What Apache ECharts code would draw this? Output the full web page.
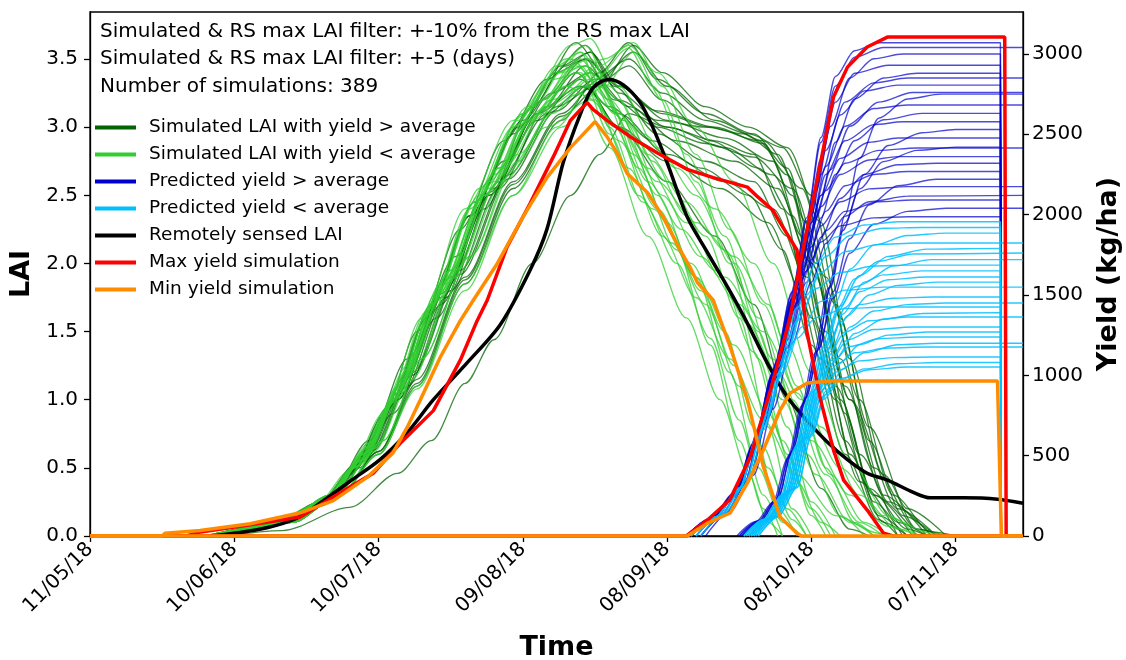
<!DOCTYPE html>
<html lang="en">
<head>
    <meta charset="UTF-8">
    <title>LAI and yield simulations</title>
    <style>
        * { margin: 0; padding: 0; box-sizing: border-box; }
        html, body { background: #fff; }
        .chart { width: 1126px; height: 660px; }
    </style>
</head>
<body>
<div class="chart" id="chart"></div>

<script src="https://cdn.jsdelivr.net/npm/echarts@6/dist/echarts.min.js"></script>
<script>
    // x values are days counted from 11/05/18
    const xTickDays = [0, 30, 60, 90, 120, 150, 180]
    const xTickLabels = ['11/05/18', '10/06/18', '10/07/18', '09/08/18', '08/09/18', '08/10/18', '07/11/18']
    const laiTicks = [0, 0.5, 1, 1.5, 2, 2.5, 3, 3.5]
    const yieldTicks = [0, 500, 1000, 1500, 2000, 2500, 3000]

    const infoLines = [
        'Simulated & RS max LAI filter: +-10% from the RS max LAI',
        'Simulated & RS max LAI filter: +-5 (days)',
        'Number of simulations: 389'
    ]
    const names = [
        'Simulated LAI with yield > average',
        'Simulated LAI with yield < average',
        'Predicted yield > average',
        'Predicted yield < average',
        'Remotely sensed LAI',
        'Max yield simulation',
        'Min yield simulation'
    ]

    // remotely sensed LAI [day, LAI]
    const rsLAI = [[25,0],[30,0.02],[36.8,0.06],[43,0.13],[47.8,0.24],[54,0.4],[60.3,0.56],[66,0.76],[71.4,1.0],
        [78.4,1.27],[85.3,1.55],[91.5,1.95],[95,2.25],[98.4,2.74],[102,3.1],[104.6,3.29],[107.8,3.35],[110.9,3.31],
        [114.4,3.18],[117,3.0],[120,2.74],[124.2,2.34],[128.4,2.08],[133,1.8],[136.7,1.56],[140.8,1.27],[145,1.02],
        [149,0.85],[153.3,0.69],[157.5,0.56],[161.6,0.46],[165.8,0.41],[171.2,0.32],[174.7,0.28],[181.6,0.28],
        [188.7,0.27],[194,0.24]]

    const maxLAI = [[0,0],[20,0],[23,0.03],[33,0.08],[43.7,0.14],[54,0.36],[58.9,0.46],[64.5,0.68],[71.4,0.92],[77,1.29],
        [80.5,1.58],[82.6,1.73],[86.7,2.12],[91.5,2.44],[96.3,2.78],[99.9,3.05],[102,3.13],[103.4,3.18],[104.6,3.13],
        [107.5,3.05],[112.3,2.93],[118,2.81],[124.2,2.69],[129.6,2.63],[136.7,2.56],[138.8,2.49],[142,2.39],[143.5,2.3],
        [147,2.1],[149,1.51],[151.9,1.0],[154.6,0.63],[156.7,0.41],[161.6,0.19],[165,0.02],[167,0],[194,0]]
    const maxYield = [[0,0],[124,0],[128.4,100],[133,224],[137.3,492],[141.5,908],[145.6,1363],[147.7,1700],[151.2,2215],
        [154.6,2732],[157.5,2918],[161.6,3043],[165.8,3105],[190.2,3105],[190.5,0],[194,0]]

    const minLAI = [[0,0],[15,0],[15.6,0.02],[22.9,0.04],[33.3,0.09],[43.7,0.17],[50.6,0.26],[57.6,0.43],[63,0.61],[66,0.8],
        [68.7,1.0],[72.8,1.31],[77,1.58],[79.7,1.73],[84.7,2.0],[90,2.34],[95,2.63],[99.9,2.85],[103.4,2.98],[105,3.04],
        [107.5,2.93],[109.6,2.81],[111.7,2.66],[115.9,2.52],[119.2,2.34],[122.7,2.1],[124.8,1.97],[126.3,1.86],[129.6,1.73],
        [133.1,1.39],[136.7,1.0],[140,0.51],[143.5,0.14],[147,0.02],[148,0],[194,0]]
    const minYield = [[0,0],[124.2,0],[128.4,80],[133.1,143],[136.7,330],[140,535],[143.5,784],[145.6,890],[149.2,952],
        [154,965],[188.7,965],[189.5,0],[194,0]]

    // simulated LAI, yield above average
    const highLAIRuns = [
        [[24,0],[38,0.08],[48,0.22],[56,0.5],[63,0.9],[72,1.6],[82,2.4],[92,3.15],[101,3.62],[108,3.35],[118,3.12],[130,3.0],[140,2.88],[146,2.5],[152,1.5],[158,0.6],[165,0.1],[170,0]],
        [[26,0],[40,0.1],[50,0.28],[58,0.62],[65,1.05],[74,1.75],[84,2.55],[94,3.2],[103,3.5],[110,3.3],[120,3.05],[132,2.92],[142,2.75],[148,2.2],[155,1.1],[163,0.3],[172,0]],
        [[27,0],[42,0.1],[52,0.3],[60,0.6],[68,1.1],[78,1.85],[88,2.55],[98,3.05],[106,3.4],[112,3.62],[118,3.35],[128,3.1],[138,2.95],[145,2.7],[151,2.0],[158,1.0],[166,0.25],[175,0]],
        [[28,0],[40,0.04],[54,0.21],[64,0.46],[71,0.7],[78,1.12],[84,1.44],[92,2.0],[100,2.5],[106,2.8],[112,3.1],[120,3.0],[132,2.85],[142,2.65],[150,2.0],[158,1.0],[168,0.2],[176,0]],
        [[25,0],[38,0.09],[48,0.25],[55,0.52],[62,0.95],[70,1.6],[79,2.35],[89,3.0],[98,3.45],[104,3.55],[110,3.25],[120,3.0],[130,2.9],[138,2.8],[144,2.4],[150,1.6],[157,0.7],[164,0.15],[170,0]],
        [[26,0],[40,0.1],[50,0.3],[58,0.7],[66,1.3],[76,2.05],[86,2.75],[96,3.25],[104,3.4],[112,3.15],[122,2.9],[134,2.75],[143,2.55],[150,2.0],[157,1.1],[165,0.3],[174,0]],
        [[24,0],[37,0.08],[47,0.22],[54,0.45],[61,0.88],[68,1.5],[77,2.25],[86,2.9],[95,3.35],[103,3.6],[109,3.3],[118,2.95],[128,2.75],[138,2.6],[145,2.2],[152,1.3],[160,0.4],[168,0]],
        [[28,0],[42,0.1],[52,0.3],[60,0.62],[68,1.15],[78,1.9],[88,2.6],[98,3.1],[106,3.35],[113,3.55],[120,3.3],[130,3.05],[140,2.9],[148,2.55],[155,1.7],[162,0.8],[170,0.2],[178,0]],
        [[25,0],[39,0.09],[49,0.26],[57,0.58],[64,1.0],[73,1.7],[83,2.5],[93,3.1],[102,3.3],[110,3.1],[120,2.8],[132,2.6],[142,2.4],[149,1.9],[156,1.0],[163,0.3],[171,0]],
        [[26,0],[40,0.1],[50,0.27],[58,0.6],[66,1.1],[75,1.8],[85,2.55],[95,3.15],[103,3.45],[110,3.2],[118,3.05],[128,3.0],[136,2.95],[143,2.8],[149,2.3],[156,1.3],[163,0.5],[172,0.05],[178,0]],
        [[25,0],[39,0.09],[49,0.25],[57,0.55],[64,1.0],[73,1.75],[83,2.5],[93,3.05],[102,3.35],[110,3.0],[120,2.6],[130,2.2],[138,1.7],[145,1.0],[152,0.35],[158,0.05],[162,0]],
        [[27,0],[41,0.1],[51,0.3],[59,0.65],[67,1.2],[77,1.95],[87,2.65],[97,3.15],[105,3.3],[112,3.45],[119,3.2],[129,2.9],[139,2.7],[146,2.35],[153,1.5],[160,0.6],[168,0.1],[174,0]],
        [[25,0],[38,0.09],[48,0.25],[56,0.55],[63,1.0],[71,1.7],[80,2.45],[90,3.05],[99,3.45],[104,3.55],[110,3.3],[119,3.1],[129,3.0],[139,2.9],[145,2.65],[151,1.9],[157,0.9],[163,0.25],[169,0]],
        [[26,0],[40,0.1],[50,0.29],[58,0.64],[66,1.2],[75,1.9],[85,2.6],[95,3.1],[103,3.3],[110,3.0],[120,2.75],[131,2.55],[141,2.3],[148,1.8],[155,1.0],[162,0.35],[170,0.05],[174,0]],
        [[27,0],[41,0.1],[51,0.3],[59,0.63],[67,1.18],[77,1.92],[87,2.62],[97,3.12],[105,3.35],[112,3.5],[119,3.25],[128,3.05],[137,2.95],[144,2.85],[150,2.5],[156,1.6],[162,0.7],[169,0.15],[176,0]],
        [[25,0],[39,0.09],[49,0.26],[57,0.57],[64,1.05],[73,1.78],[83,2.52],[93,3.1],[101,3.4],[108,3.15],[117,2.9],[127,2.7],[137,2.5],[144,2.1],[150,1.4],[157,0.6],[164,0.12],[168,0]],
        [[24,0],[37,0.08],[47,0.22],[55,0.48],[62,0.92],[70,1.6],[79,2.35],[88,2.95],[97,3.4],[103,3.5],[109,3.2],[118,3.0],[128,2.88],[138,2.78],[146,2.55],[153,1.9],[160,1.0],[167,0.3],[175,0.03],[180,0]],
        [[28,0],[42,0.1],[52,0.3],[60,0.62],[68,1.12],[78,1.88],[88,2.58],[98,3.08],[106,3.3],[113,3.6],[119,3.4],[128,3.15],[137,3.0],[145,2.85],[152,2.3],[158,1.3],[165,0.45],[172,0.05],[177,0]]
    ]

    // simulated LAI, yield below average
    const lowLAIRuns = [
        [[25,0],[38,0.08],[48,0.24],[55,0.5],[62,0.95],[70,1.65],[80,2.45],[90,3.1],[99,3.5],[103,3.6],[110,3.1],[118,2.5],[126,1.9],[133,1.2],[139,0.5],[144,0.1],[148,0]],
        [[26,0],[40,0.1],[50,0.28],[58,0.65],[65,1.15],[74,1.9],[84,2.65],[94,3.2],[102,3.45],[109,3.0],[117,2.4],[125,2.0],[132,1.5],[138,0.8],[143,0.2],[147,0]],
        [[24,0],[37,0.08],[47,0.23],[54,0.48],[61,0.9],[69,1.6],[78,2.4],[88,3.05],[97,3.4],[104,3.5],[111,3.05],[120,2.6],[128,2.2],[135,1.6],[141,0.8],[146,0.2],[150,0]],
        [[27,0],[42,0.1],[52,0.3],[60,0.6],[68,1.1],[78,1.85],[88,2.5],[97,3.0],[105,3.35],[112,3.58],[117,3.3],[124,2.8],[132,2.2],[139,1.5],[145,0.8],[150,0.25],[155,0]],
        [[26,0],[40,0.1],[50,0.3],[58,0.68],[66,1.25],[75,1.95],[85,2.7],[95,3.15],[103,3.3],[110,2.9],[118,2.4],[126,1.9],[134,1.4],[141,0.9],[147,0.4],[152,0.1],[156,0]],
        [[25,0],[39,0.09],[49,0.26],[57,0.58],[64,1.05],[72,1.75],[82,2.5],[92,3.1],[101,3.45],[108,3.2],[116,2.8],[124,2.45],[132,2.1],[139,1.6],[146,1.0],[153,0.45],[160,0.1],[165,0]],
        [[24,0],[38,0.08],[48,0.23],[56,0.52],[63,0.98],[71,1.7],[81,2.5],[91,3.15],[100,3.6],[104,3.65],[110,3.3],[118,2.85],[126,2.5],[134,2.0],[142,1.3],[149,0.6],[156,0.15],[161,0]],
        [[28,0],[42,0.1],[52,0.3],[61,0.7],[69,1.3],[79,2.05],[89,2.75],[99,3.25],[106,3.45],[112,3.6],[118,3.4],[126,3.0],[134,2.6],[142,2.0],[150,1.2],[158,0.55],[166,0.15],[172,0]],
        [[26,0],[40,0.1],[50,0.29],[58,0.63],[65,1.12],[74,1.85],[84,2.6],[94,3.1],[102,3.25],[108,2.85],[116,2.2],[124,1.6],[131,1.0],[137,0.45],[141,0.1],[144,0]],
        [[25,0],[39,0.09],[49,0.26],[56,0.55],[63,1.0],[72,1.72],[82,2.5],[92,3.05],[101,3.4],[108,3.15],[116,2.7],[124,2.3],[132,1.9],[140,1.5],[148,1.0],[156,0.5],[165,0.15],[175,0.02],[179,0]],
        [[27,0],[41,0.1],[51,0.3],[59,0.62],[67,1.15],[76,1.9],[86,2.6],[96,3.1],[104,3.35],[111,3.05],[119,2.5],[127,2.05],[135,1.7],[143,1.2],[150,0.7],[158,0.3],[166,0.07],[172,0]],
        [[25,0],[39,0.09],[49,0.27],[57,0.6],[64,1.08],[73,1.8],[83,2.55],[93,3.1],[102,3.5],[108,3.2],[114,2.7],[122,2.1],[129,1.4],[135,0.7],[140,0.2],[143,0]],
        [[26,0],[40,0.1],[50,0.3],[58,0.66],[66,1.2],[75,1.9],[85,2.6],[95,3.0],[104,3.2],[110,3.0],[118,2.6],[126,2.3],[134,2.05],[141,1.7],[147,1.1],[153,0.5],[159,0.1],[163,0]],
        [[28,0],[42,0.1],[52,0.3],[60,0.6],[68,1.08],[78,1.8],[88,2.5],[98,3.0],[107,3.3],[113,3.55],[119,3.2],[126,2.6],[133,2.0],[139,1.3],[145,0.6],[150,0.15],[153,0]],
        [[25,0],[38,0.08],[48,0.24],[56,0.55],[63,1.0],[71,1.7],[80,2.45],[89,3.05],[97,3.45],[102,3.55],[108,3.0],[115,2.45],[122,2.0],[129,1.45],[135,0.85],[140,0.3],[144,0]],
        [[26,0],[39,0.09],[49,0.27],[57,0.6],[64,1.1],[73,1.85],[83,2.6],[92,3.15],[100,3.5],[106,3.3],[113,2.8],[120,2.3],[127,1.8],[134,1.25],[140,0.65],[145,0.2],[149,0]],
        [[27,0],[41,0.1],[51,0.3],[59,0.64],[67,1.2],[76,1.95],[86,2.7],[96,3.2],[104,3.4],[110,3.2],[117,2.75],[124,2.35],[131,1.9],[138,1.35],[144,0.7],[150,0.2],[154,0]],
        [[25,0],[39,0.09],[49,0.26],[57,0.57],[64,1.05],[72,1.78],[81,2.55],[90,3.1],[98,3.4],[103,3.45],[109,3.1],[116,2.6],[123,2.25],[130,1.95],[137,1.55],[144,1.0],[151,0.45],[158,0.1],[163,0]],
        [[26,0],[40,0.1],[50,0.3],[58,0.66],[66,1.22],[75,1.95],[85,2.7],[94,3.2],[102,3.55],[108,3.3],[115,2.95],[122,2.7],[130,2.4],[138,2.0],[145,1.4],[152,0.8],[160,0.3],[168,0.05],[173,0]],
        [[24,0],[37,0.08],[47,0.22],[55,0.5],[62,0.92],[70,1.62],[79,2.4],[88,3.0],[96,3.35],[102,3.4],[108,2.95],[114,2.5],[121,2.15],[128,1.7],[135,1.1],[141,0.5],[146,0.12],[149,0]],
        [[28,0],[42,0.1],[52,0.31],[61,0.7],[69,1.3],[79,2.05],[89,2.8],[99,3.3],[107,3.5],[113,3.62],[119,3.3],[126,2.8],[133,2.25],[140,1.7],[147,1.05],[154,0.45],[161,0.1],[166,0]],
        [[25,0],[39,0.09],[49,0.25],[57,0.56],[64,1.02],[73,1.75],[82,2.5],[91,3.05],[99,3.3],[105,3.2],[112,2.7],[119,2.2],[126,1.75],[133,1.3],[140,0.85],[147,0.45],[155,0.15],[164,0.02],[168,0]]
    ]

    // predicted yield above average [day, kg/ha]
    const highYieldRuns = [
        [[124,0],[129,110],[134,270],[138,580],[142,1020],[146,1520],[149,1980],[152,2480],[155,2860],[159,3020],[164,3070],[189.3,3070],[189.5,0]],
        [[124,0],[129,105],[134,260],[138,560],[142,1000],[146,1480],[149,1900],[152,2350],[155,2700],[159,2880],[166,2930],[189.3,2930],[189.5,0]],
        [[125,0],[130,120],[134,250],[138,540],[142,980],[146,1450],[149,1850],[152,2250],[156,2620],[161,2770],[168,2806],[189.3,2806],[189.5,0]],
        [[124,0],[129,100],[134,255],[138,560],[142,1000],[146,1470],[150,1950],[153,2300],[157,2550],[163,2660],[170,2682],[194,2682]],
        [[125,0],[130,115],[135,290],[139,640],[143,1080],[147,1550],[150,1950],[153,2250],[157,2460],[163,2560],[169,2578],[189.3,2578],[189.5,0]],
        [[124,0],[129,100],[134,250],[138,550],[142,990],[146,1440],[149,1800],[152,2120],[156,2350],[162,2450],[168,2477],[189.3,2477],[189.5,0]],
        [[125,0],[130,120],[135,300],[139,650],[143,1090],[147,1560],[150,1900],[153,2150],[157,2320],[164,2400],[172,2415],[194,2415]],
        [[124,0],[129,105],[134,265],[138,570],[142,1010],[146,1450],[149,1780],[152,2050],[156,2250],[162,2340],[168,2361],[189.3,2361],[189.5,0]],
        [[125,0],[130,115],[135,300],[139,640],[143,1060],[147,1500],[150,1800],[153,2020],[157,2180],[163,2250],[170,2268],[189.3,2268],[189.5,0]],
        [[124,0],[129,100],[134,250],[138,545],[142,970],[146,1400],[149,1700],[152,1930],[156,2080],[162,2160],[170,2174],[194,2174]],
        [[125,0],[130,118],[135,290],[139,620],[143,1040],[147,1450],[150,1720],[153,1900],[157,2020],[164,2080],[171,2091],[189.3,2091],[189.5,0]],
        [[124,0],[129,100],[134,245],[138,540],[142,960],[146,1380],[149,1650],[152,1830],[156,1930],[163,1980],[170,1987],[189.3,1987],[189.5,0]],
        [[135,0],[139,90],[142.5,220],[145.5,500],[148.5,830],[151,1140],[154,1560],[157,2000],[160,2350],[164,2600],[170,2720],[177,2750],[194,2750]],
        [[135,0],[139,95],[142.5,225],[145.5,510],[148.5,840],[151,1150],[154,1550],[157,1950],[161,2250],[166,2430],[173,2510],[180,2530],[189.3,2530],[189.5,0]],
        [[135.5,0],[139.5,95],[143,230],[146,520],[149,860],[151.5,1160],[154.5,1520],[158,1850],[162,2060],[168,2180],[176,2220],[189.3,2220],[189.5,0]],
        [[135.5,0],[139.5,100],[143,235],[146,530],[149,870],[151.5,1170],[154.5,1480],[158,1760],[163,1940],[170,2020],[178,2040],[194,2040]],
        [[124,0],[129,108],[134,265],[138,575],[142,1015],[146,1510],[149,1960],[152,2450],[155,2800],[159,2980],[165,3040],[194,3040]],
        [[125,0],[130,120],[135,300],[139,660],[143,1100],[147,1600],[150,2000],[153,2400],[157,2700],[163,2820],[170,2850],[194,2850]],
        [[126,0],[131,130],[136,330],[140,720],[144,1200],[148,1700],[151,2150],[154,2550],[158,2850],[163,2970],[169,3000],[189.3,3000],[189.5,0]],
        [[127,0],[132,140],[137,360],[141,760],[145,1220],[149,1720],[152,2120],[155,2450],[159,2720],[165,2850],[172,2880],[189.3,2880],[189.5,0]],
        [[126,0],[131,125],[136,320],[140,700],[144,1150],[148,1620],[151,1980],[154,2280],[158,2550],[164,2700],[171,2760],[194,2760]],
        [[127,0],[132,135],[137,350],[141,740],[145,1180],[149,1650],[152,1980],[155,2250],[159,2460],[165,2590],[173,2630],[189.3,2630],[189.5,0]],
        [[127,0],[132,138],[137,355],[141,750],[145,1170],[149,1580],[152,1860],[156,2100],[161,2250],[168,2310],[176,2320],[189.3,2320],[189.5,0]],
        [[128,0],[133,150],[138,380],[142,790],[146,1200],[150,1580],[153,1820],[157,1990],[162,2080],[170,2115],[194,2120]],
        [[134.5,0],[138.5,90],[142,210],[145,480],[148,810],[150.5,1130],[153.5,1540],[156.5,1900],[160,2160],[165,2330],[172,2400],[180,2420],[189.3,2420],[189.5,0]]
    ]

    // predicted yield below average [day, kg/ha]
    const lowYieldRuns = [
        [[125,0],[130,120],[135,300],[139,650],[143,1050],[147,1420],[151,1700],[155,1860],[161,1935],[168,1956],[189.3,1956],[189.5,0]],
        [[126,0],[131,130],[136,320],[140,680],[144,1060],[148,1400],[152,1640],[157,1770],[164,1815],[172,1823],[194,1823]],
        [[125,0],[130,115],[135,290],[139,630],[143,1010],[147,1340],[151,1540],[156,1640],[163,1680],[170,1686],[189.3,1686],[189.5,0]],
        [[126,0],[131,125],[136,310],[140,660],[144,1020],[148,1300],[152,1460],[157,1530],[165,1549],[194,1549]],
        [[125,0],[130,118],[135,295],[139,640],[143,980],[147,1230],[151,1360],[157,1415],[165,1425],[189.3,1425],[189.5,0]],
        [[136,0],[140,100],[143.5,240],[146.5,540],[149.5,870],[152,1160],[155,1450],[158,1660],[163,1810],[170,1870],[178,1885],[189.3,1885],[189.5,0]],
        [[136,0],[140,105],[144,260],[147,570],[150,900],[152.5,1170],[155.5,1420],[159,1600],[164,1710],[171,1755],[194,1761]],
        [[137,0],[141,110],[145,280],[148,590],[151,920],[153.5,1170],[156.5,1380],[160,1520],[166,1595],[174,1612],[189.3,1612],[189.5,0]],
        [[136.5,0],[140.5,100],[144.5,265],[147.5,580],[150.5,900],[153,1140],[156,1330],[160,1440],[167,1480],[175,1487],[189.3,1487],[189.5,0]],
        [[137,0],[141,108],[145,275],[148,590],[151,910],[153.5,1120],[157,1270],[162,1340],[170,1363],[194,1363]],
        [[137.5,0],[141.5,110],[145.5,285],[148.5,600],[151.5,900],[154,1090],[157.5,1220],[163,1285],[171,1301],[189.3,1301],[189.5,0]],
        [[137,0],[141,105],[145,270],[148,585],[151,890],[154,1070],[158,1180],[164,1228],[172,1238],[189.3,1238],[189.5,0]],
        [[138,0],[142,115],[146,290],[149,610],[152,900],[155,1060],[159,1140],[166,1170],[174,1176],[194,1176]],
        [[137.5,0],[141.5,110],[145.5,280],[148.5,600],[151.5,880],[155,1020],[160,1090],[167,1110],[175,1114],[189.3,1114],[189.5,0]],
        [[138,0],[142,115],[146,290],[149,610],[152,860],[156,980],[162,1035],[170,1052],[189.3,1052],[189.5,0]],
        [[136,0],[140,100],[144,255],[147,565],[150,890],[152.5,1150],[155.5,1400],[159,1550],[165,1625],[173,1650],[189.3,1650],[189.5,0]],
        [[127,0],[132,140],[137,360],[141,760],[145,1150],[149,1500],[153,1740],[158,1870],[165,1915],[173,1920],[189.3,1920],[189.5,0]],
        [[136.5,0],[140.5,105],[144.5,265],[147.5,580],[150.5,905],[153,1170],[156,1430],[160,1620],[166,1740],[174,1785],[189.3,1790],[189.5,0]],
        [[137,0],[141,108],[145,275],[148,595],[151,920],[153.5,1160],[157,1420],[161,1580],[167,1680],[175,1720],[194,1720]],
        [[137.5,0],[141.5,112],[145.5,285],[148.5,600],[151.5,925],[154,1150],[157.5,1370],[162,1500],[168,1560],[176,1580],[189.3,1580],[189.5,0]],
        [[138,0],[142,115],[146,290],[149,610],[152,920],[154.5,1120],[158,1300],[163,1400],[170,1440],[178,1450],[194,1450]],
        [[138.5,0],[142.5,118],[146.5,300],[149.5,620],[152.5,915],[155,1100],[159,1260],[165,1350],[173,1385],[189.3,1390],[189.5,0]],
        [[139,0],[143,120],[147,305],[150,630],[153,900],[156,1080],[160,1190],[166,1250],[174,1270],[189.3,1270],[189.5,0]],
        [[139,0],[143,118],[147,300],[150,620],[153,880],[156.5,1040],[161,1140],[168,1190],[176,1200],[194,1200]],
        [[138.5,0],[142.5,115],[146.5,295],[149.5,615],[152.5,850],[156,970],[161,1040],[168,1072],[176,1080],[189.3,1080],[189.5,0]]
    ]

    const chart = echarts.init(document.getElementById('chart'))
    const font = 'DejaVu Sans'

    function thinLine(name, data, color, axis, width, opacity) {
        return {
            name: name, type: 'line', data: data, yAxisIndex: axis,
            symbol: 'none', smooth: 0.3, smoothMonotone: 'x', clip: false, silent: true,
            itemStyle: { color: color },
            lineStyle: { color: color, width: width, opacity: opacity }
        }
    }
    function thickLine(name, data, color, axis, smooth) {
        return {
            name: name, type: 'line', data: data, yAxisIndex: axis,
            symbol: 'none', smooth: smooth, clip: false, silent: true,
            itemStyle: { color: color },
            lineStyle: { color: color, width: 3.5 }
        }
    }

    const series = []
    highLAIRuns.forEach(d => series.push(thinLine(names[0], d, '#006400', 0, 1.3, 0.75)))
    lowLAIRuns.forEach(d => series.push(thinLine(names[1], d, '#32CD32', 0, 1.3, 0.75)))
    series.push(thickLine(names[4], rsLAI, '#000000', 0, 0.3))
    highYieldRuns.forEach(d => series.push(thinLine(names[2], d, '#0000CD', 1, 1.4, 0.7)))
    lowYieldRuns.forEach(d => series.push(thinLine(names[3], d, '#00BFFF', 1, 1.4, 0.85)))
    series.push(thickLine(names[5], maxLAI, '#FF0000', 0, false))
    series.push(thickLine(names[5], maxYield, '#FF0000', 1, false))
    series.push(thickLine(names[6], minLAI, '#FF8C00', 0, false))
    series.push(thickLine(names[6], minYield, '#FF8C00', 1, false))

    const tickLabel = { fontSize: 20, color: '#000', fontFamily: font }

    chart.setOption({
        animation: false,
        backgroundColor: '#fff',
        title: {
            text: infoLines.join('\n'),
            left: 95, top: 13,
            textStyle: { fontSize: 20, fontWeight: 'normal', color: '#000', fontFamily: font, lineHeight: 27.5 }
        },
        legend: {
            data: names,
            orient: 'vertical',
            left: 88, top: 113,
            itemWidth: 41, itemHeight: 18, itemGap: 8,
            selectedMode: false,
            itemStyle: { opacity: 0 },
            lineStyle: { width: 4, opacity: 1 },
            textStyle: { fontSize: 18.5, color: '#000', fontFamily: font, padding: [0, 0, 0, 8] }
        },
        grid: {
            left: 90, right: 103, top: 12, bottom: 124,
            outerBoundsMode: 'none',
            show: true, borderColor: '#000', borderWidth: 1.3
        },
        xAxis: {
            type: 'value', min: 0, max: 194,
            name: 'Time', nameLocation: 'middle', nameGap: 98,
            nameTextStyle: { fontSize: 27, fontWeight: 'bold', color: '#000', fontFamily: font },
            axisLine: { lineStyle: { color: '#000', width: 1.3 } },
            axisTick: { customValues: xTickDays, length: 6, lineStyle: { color: '#000', width: 1.3 } },
            axisLabel: Object.assign({
                customValues: xTickDays, rotate: 45, margin: 10,
                formatter: v => xTickLabels[xTickDays.indexOf(v)]
            }, tickLabel),
            splitLine: { show: false }
        },
        yAxis: [
            {
                type: 'value', min: 0, max: 3.845, position: 'left',
                name: 'LAI', nameLocation: 'middle', nameGap: 50, nameRotate: 90,
                nameTextStyle: { fontSize: 27, fontWeight: 'bold', color: '#000', fontFamily: font },
                axisLine: { show: true, lineStyle: { color: '#000', width: 1.3 } },
                axisTick: { show: true, customValues: laiTicks, length: 6, lineStyle: { color: '#000', width: 1.3 } },
                axisLabel: Object.assign({ customValues: laiTicks, margin: 12, formatter: v => v.toFixed(1) }, tickLabel),
                splitLine: { show: false }
            },
            {
                type: 'value', min: 0, max: 3261, position: 'right',
                name: 'Yield (kg/ha)', nameLocation: 'middle', nameGap: 72, nameRotate: 90,
                nameTextStyle: { fontSize: 27, fontWeight: 'bold', color: '#000', fontFamily: font },
                axisLine: { show: true, lineStyle: { color: '#000', width: 1.3 } },
                axisTick: { show: true, customValues: yieldTicks, length: 6, lineStyle: { color: '#000', width: 1.3 } },
                axisLabel: Object.assign({ customValues: yieldTicks, margin: 9, formatter: v => String(v) }, tickLabel),
                splitLine: { show: false }
            }
        ],
        series: series
    })
</script>
</body>
</html>
